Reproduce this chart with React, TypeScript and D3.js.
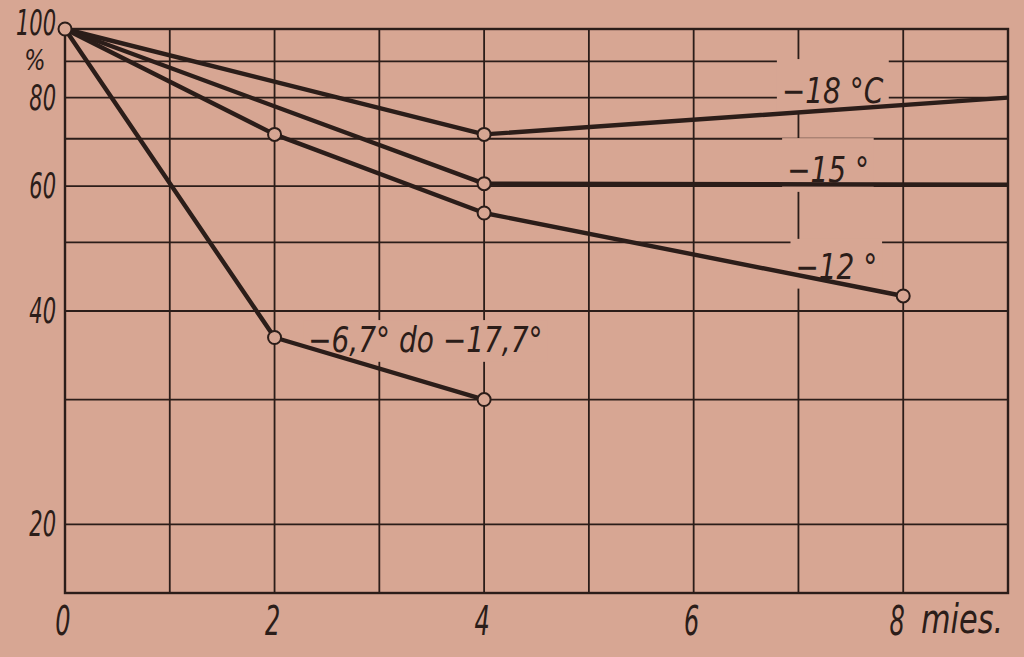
import React, { useEffect, useRef } from 'react';
import * as d3 from 'd3';

// months on the x axis, % remaining on a log y axis
const gridMonths = [0, 1, 2, 3, 4, 5, 6, 7, 8, 9];
const gridPercents = [100, 90, 80, 70, 60, 50, 40, 30, 20];
const xTickLabels = [0, 2, 4, 6, 8];
const yTickLabels = [100, 80, 60, 40, 20];

const s18Months = [0, 4, 9];
const s18Values = [100, 71, 80];
const s15Months = [0, 4, 9];
const s15Values = [100, 60.5, 60.3];
const s12Months = [0, 2, 4, 8];
const s12Values = [100, 71, 55, 42];
const s67Months = [0, 2, 4];
const s67Values = [100, 36.7, 30];

const seriesNames = ['−18 °C', '−15 °', '−12 °', '−6,7° do −17,7°'];
// which points get an open circle (index into each series)
const s18Marks = [0, 1];
const s15Marks = [1];
const s12Marks = [1, 2, 3];
const s67Marks = [1, 2];

const BG = '#d7a693';
const INK = '#2b1d19';
const FONT = '"DejaVu Sans", sans-serif';

const App: React.FC = () => {
  const svgRef = useRef<SVGSVGElement>(null);
  const width = 1024;
  const height = 657;

  useEffect(() => {
    if (!svgRef.current) return;
    const svg = d3.select(svgRef.current);
    svg.selectAll('*').remove();

    const x = d3.scaleLinear().domain([0, 9]).range([65, 1008]);
    const y = d3.scaleLog().domain([16, 100]).range([593, 29]);

    const grid = svg.append('g').attr('stroke', INK).attr('stroke-width', 1.8);
    gridMonths.forEach(m => {
      grid.append('line')
        .attr('x1', x(m)).attr('x2', x(m))
        .attr('y1', y(100)).attr('y2', y(16));
    });
    gridPercents.forEach(p => {
      grid.append('line')
        .attr('x1', x(0)).attr('x2', x(9))
        .attr('y1', y(p)).attr('y2', y(p));
    });
    // frame
    svg.append('rect')
      .attr('x', x(0)).attr('y', y(100))
      .attr('width', x(9) - x(0)).attr('height', y(16) - y(100))
      .attr('fill', 'none').attr('stroke', INK).attr('stroke-width', 2.4);

    // narrow italic lettering; padTop > 0 blanks the grid behind it
    const label = (text: string, px: number, py: number, size: number, sx: number, anchor: string, padTop: number) => {
      const g = svg.append('g').attr('transform', `translate(${px},${py}) scale(${sx},1)`);
      const t = g.append('text')
        .attr('font-family', FONT)
        .attr('font-style', 'italic')
        .attr('font-size', size)
        .attr('text-anchor', anchor)
        .attr('fill', INK)
        .text(text);
      if (padTop > 0) {
        const b = (t.node() as SVGTextElement).getBBox();
        g.insert('rect', 'text')
          .attr('x', b.x - 6).attr('y', b.y + 6 - padTop)
          .attr('width', b.width + 12).attr('height', b.height - 6 + padTop + 2)
          .attr('fill', BG);
      }
    };

    // series labels sit on a blank patch of the grid
    label(seriesNames[0], x(6.84), y(78.6), 35, 0.8, 'start', 18);
    label(seriesNames[1], x(6.89), y(60.8), 35, 0.8, 'start', 18);
    label(seriesNames[2], x(6.97), y(44.4), 35, 0.8, 'start', 14);
    label(seriesNames[3], x(2.32), y(35.0), 35, 0.8, 'start', 6);

    // axis labels
    yTickLabels.forEach(v => {
      if (v === 100) {
        label(String(v), 56, y(v) + 6, 35, 0.6, 'end', 0);
      } else {
        label(String(v), 56, y(v) + 12, 35, 0.6, 'end', 0);
      }
    });
    label('%', 35, 70, 28, 0.8, 'middle', 0);
    xTickLabels.forEach(m => {
      label(String(m), x(m) - (m === 8 ? 6 : 2), 635, 40, 0.6, 'middle', 0);
    });
    label('mies.', 921, 633, 40, 0.76, 'start', 0);

    const series = [
      { months: s18Months, values: s18Values, marks: s18Marks },
      { months: s15Months, values: s15Values, marks: s15Marks },
      { months: s12Months, values: s12Values, marks: s12Marks },
      { months: s67Months, values: s67Values, marks: s67Marks }
    ];

    const line = d3.line<[number, number]>()
      .x(d => x(d[0]))
      .y(d => y(d[1]));

    series.forEach(s => {
      const pts = s.months.map((m, i) => [m, s.values[i]] as [number, number]);
      svg.append('path')
        .attr('d', line(pts))
        .attr('fill', 'none')
        .attr('stroke', INK)
        .attr('stroke-width', 4.4)
        .attr('stroke-linejoin', 'round');
    });

    series.forEach(s => {
      s.marks.forEach(i => {
        svg.append('circle')
          .attr('cx', x(s.months[i]))
          .attr('cy', y(s.values[i]))
          .attr('r', 6.5)
          .attr('fill', BG)
          .attr('stroke', INK)
          .attr('stroke-width', 2);
      });
    });
  }, []);

  return (
    <div style={{ position: 'fixed', left: 0, top: 0, width, height, background: BG }}>
      <svg ref={svgRef} width={width} height={height} style={{ display: 'block' }}></svg>
    </div>
  );
};

export default App;
